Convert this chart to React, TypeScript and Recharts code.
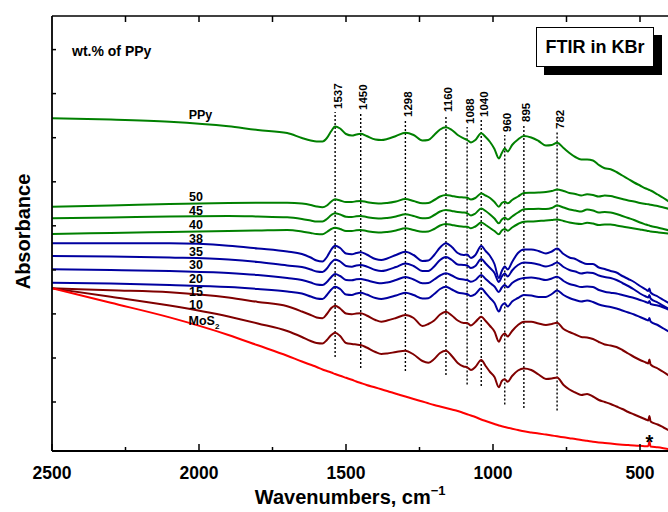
import React from 'react';
import { LineChart, Line, XAxis, YAxis, ReferenceLine, ReferenceDot } from 'recharts';

const FONT = "'Liberation Sans', Arial, Helvetica, sans-serif";

// Wavenumber grid (cm^-1)
const WAVENUMBERS = [
  2500, 2300, 2100, 1900, 1800, 1700, 1650, 1620, 1600, 1580,
  1565, 1550, 1537, 1520, 1500, 1480, 1465, 1450, 1430, 1400,
  1380, 1360, 1330, 1298, 1270, 1240, 1220, 1200, 1180, 1160,
  1140, 1120, 1100, 1088, 1075, 1060, 1040, 1025, 1010, 995,
  980, 970, 960, 950, 935, 915, 895, 870, 845, 820,
  800, 782, 760, 740, 720, 700, 680, 660, 640, 620,
  600, 580, 560, 540, 520, 500, 480, 472, 468, 464,
  440, 420, 400,
];

// Absorbance (arbitrary units, stacked/offset spectra)
const PPY = [
  332.7, 331.5, 329.3, 324.7, 321, 318, 313, 310.5, 309.5, 309.5,
  313, 320, 324.5, 322.5, 317, 315.5, 316.5, 317.3, 315, 311.5,
  311, 312, 315, 318.3, 316, 310.5, 311, 316, 321.5, 323.7,
  321, 316, 312.7, 311, 308.5, 311, 317.7, 314, 309, 302,
  292.5, 298, 302.5, 299.5, 306, 311.5, 315, 313.5, 310, 305.5,
  306, 308.3, 303, 298, 294, 291.5, 291.5, 290.5, 286, 282.7,
  281.7, 279, 275.5, 272, 268.5, 265.5, 262.5, 261.5, 261, 260.5,
  256.5, 253, 249,
];
const PPY50 = [
  244.3, 245.5, 247, 248, 248.2, 248.3, 247.5, 246, 244.5, 243.7,
  245.5, 249.5, 251.8, 250.5, 249, 249, 249.7, 250, 249, 247.7,
  247.5, 248, 249.5, 252, 250, 247.7, 248, 251, 254.5, 256,
  255, 254, 253.5, 253.2, 251.5, 253, 257.5, 255.5, 253, 249,
  244.3, 248, 249.3, 247.7, 251, 254.5, 258, 258.3, 258.5, 259,
  260, 261.5, 260, 258, 257, 255.5, 256.7, 256, 254.5, 255.5,
  255, 253.5, 252, 250.5, 249.5, 248, 247, 246.7, 246.5, 246.2,
  245, 243.5, 242,
];
const PPY45 = [
  232.7, 233.5, 234.5, 235, 234.5, 233.7, 232, 230.5, 229.5, 229.5,
  232, 236, 237.7, 236.5, 234.3, 234, 234.7, 235, 234, 232.7,
  232.5, 233, 234.5, 236.7, 235, 232.7, 233, 236, 239.5, 241,
  240, 239, 238.5, 237.7, 235.5, 237.5, 242.5, 240, 236.5, 232.5,
  227.7, 231.5, 233.3, 231.5, 234.5, 238.5, 241.8, 242, 242.2, 242,
  243, 245.5, 243.5, 241.5, 240.5, 239.5, 241.5, 240.5, 238.5, 239,
  238.5, 237, 235, 233, 231, 228.5, 226.5, 225.7, 225.5, 225,
  223.5, 222, 220.5,
];
const PPY40 = [
  217, 218, 219, 220, 220.5, 221, 219.5, 218, 217, 216.7,
  219, 222, 223.3, 222, 220, 220, 220.7, 221, 220, 218.7,
  218.5, 219, 220.5, 222.7, 221, 219.3, 219.5, 222, 225.5, 227,
  226, 225, 224.3, 224.3, 222.7, 224.5, 228.5, 226, 223, 220,
  216.7, 220.5, 222, 220.3, 223.5, 227, 229.3, 229.5, 230, 230.5,
  231, 231.5, 230, 228.5, 227.5, 227, 228.3, 227.5, 226, 226.5,
  226.5, 225.5, 224.5, 223.5, 222.5, 221.5, 220.5, 220, 219.8, 219.5,
  218.7, 218, 217.2,
];
const PPY38 = [
  207.7, 207.7, 207.7, 205.3, 202.5, 199.5, 197, 193.5, 190.5, 189.5,
  194, 201.5, 205.3, 203, 197.5, 196.7, 198, 198.7, 196.5, 192,
  191, 192.5, 196, 199.3, 196, 190, 190.5, 196, 203.5, 207.7,
  204, 198, 196, 196.5, 193, 196, 205, 200, 195, 187,
  173, 180, 184.5, 181.5, 189, 198, 201.5, 201.5, 200, 197.5,
  199.5, 202.5, 197, 193.5, 192, 189, 187, 187, 183.5, 182,
  180, 178.5, 175, 172, 169, 165, 161.5, 160, 162.5, 158.5,
  154.5, 151, 147.5,
];
const PPY35 = [
  195, 194.5, 193.5, 191.5, 189, 185.5, 184, 181.5, 179.5, 179,
  182.5, 188.5, 191.5, 189.5, 185, 184.3, 185.5, 186, 184.5, 181,
  180, 181, 184, 187.5, 185, 180, 180, 184.5, 191, 194,
  191, 186.5, 186, 185.5, 183, 185, 192, 187.5, 183, 178,
  169, 174.5, 177.5, 174.5, 180.5, 186, 188.5, 188, 186.5, 184.5,
  186, 188.5, 184, 181, 179.5, 177.5, 178.5, 178, 175.5, 174,
  173, 171, 168, 165, 161.5, 157.5, 154.5, 153.5, 156, 152.5,
  148.5, 145, 142,
];
const PPY30 = [
  181.7, 181, 180, 178, 176, 173, 171, 168.5, 166.5, 166,
  169, 174, 177, 175, 171, 170.7, 171.7, 172, 170.7, 168.5,
  167.7, 168.5, 171, 174, 171.5, 167.7, 168, 171.5, 175.5, 177.7,
  175.5, 172.5, 171.5, 171, 169.3, 171, 176, 172, 168, 164.5,
  159, 163.5, 166, 163.7, 168, 171.5, 173, 173.5, 172.5, 171,
  172.5, 174.3, 170, 167, 165.5, 164, 164.5, 164, 161, 159.3,
  158.3, 157.5, 156, 154.5, 153, 151, 149, 148, 150, 147,
  145.5, 143.5, 141,
];
const PPY20 = [
  168.3, 167.5, 166, 164, 162, 159.5, 157.5, 154.5, 152.5, 152,
  156, 161.5, 164.3, 162, 156.5, 156, 157.5, 158.3, 156.5, 153,
  152, 153, 155.5, 158.3, 156, 152.5, 152.7, 157, 162, 164.3,
  161.5, 158.5, 157.5, 157, 155, 157, 162.7, 158, 153, 148,
  139.5, 145.5, 147.7, 144.5, 149.5, 153, 156, 155.5, 154, 154,
  157, 160.5, 156, 153, 151, 149.5, 150.5, 149, 146.5, 145,
  144, 142.5, 140.5, 138.5, 136.5, 134, 131.5, 130.5, 133, 129.5,
  126, 122.5, 119,
];
const PPY15 = [
  162.7, 160.7, 158.7, 153.5, 149.1, 144.7, 139.5, 136, 133.5, 132.7,
  137, 143, 145.3, 142.5, 137.5, 136.7, 137.5, 137.7, 135.5, 131,
  129.3, 130.5, 133, 136, 133, 125, 127, 130.5, 136.5, 139.3,
  135.5, 130.5, 128, 128, 125.5, 129, 134.3, 130, 125, 119.5,
  109.3, 115, 117.5, 114.5, 120, 126, 129.3, 129.3, 127.5, 126,
  127, 128.3, 122, 119, 116.5, 114, 113.5, 112, 109, 106.5,
  105.5, 104, 101, 97.5, 94, 91, 88.5, 87.5, 91.5, 86.5,
  82.5, 79, 75,
];
const PPY10 = [
  162.7, 154.3, 145.5, 134.5, 127.5, 120, 114, 110, 108, 107.5,
  111, 116, 118.3, 115, 108, 107, 106.5, 106, 103.5, 99,
  97, 97.5, 99, 100.3, 96.5, 90, 88.3, 92, 98, 100.3,
  95, 88, 84.5, 83.7, 81, 84, 91, 85, 79, 74,
  63.7, 70, 71.7, 69.3, 75, 80.5, 82.5, 81, 76.5, 72,
  72.5, 73.5, 66, 61.5, 58.5, 56, 57, 54.5, 51, 49,
  47, 44.5, 42, 39, 36.5, 34, 31.5, 30.5, 35, 29.5,
  26.5, 23.5, 20.5,
];
const MOS2 = [
  162.7, 148.2, 133.6, 116, 105.7, 95.3, 89.5, 86.2, 84, 81.5,
  80, 78.5, 77, 75.2, 73.2, 71.2, 69.5, 68, 66, 63.5,
  61.7, 60, 57.3, 54.5, 52, 49.5, 47.7, 46, 44.5, 43,
  41.5, 40, 38, 36.8, 35.5, 34, 31.5, 30, 28.5, 27,
  25.5, 24.7, 24, 23.3, 22.3, 21, 19.7, 18.5, 17.5, 16.4,
  15.5, 14.7, 13.7, 12.8, 12, 11, 10.2, 9.3, 8.6, 8,
  7.4, 6.8, 6.3, 5.9, 5.5, 5.2, 4.8, 4.7, 9.5, 4.5,
  3.7, 2.8, 1.8,
];

// Peak assignments (dotted markers)
const PEAKS = [1537, 1450, 1298, 1160, 1088, 1040, 960, 895, 782];
const PEAK_TOP = [339, 338, 331, 336, 324, 331, 316, 326, 319];
const PEAK_BOTTOM = [94, 83, 80, 76, 66.5, 65, 46.5, 43, 40.5];

// Curve labels
const CURVE_LABELS = ['PPy', '50', '45', '40', '38', '35', '30', '20', '15', '10', 'MoS2'];
const LABEL_WN = [1995, 2010, 2010, 2010, 2010, 2010, 2010, 2010, 2010, 2010, 1983];
const LABEL_Y = [336, 254.3, 240.3, 226.1, 212.9, 199.3, 186, 172.8, 159.5, 146.5, 130.3];

const ASTERISK_WN = 468;
const ASTERISK_Y = 14;

// Axis ticks
const X_TICKS = [2500, 2250, 2000, 1750, 1500, 1250, 1000, 750, 500];
const TOP_TICKS = [2250, 2000, 1750, 1500, 1250, 1000, 750, 500];
const Y_TICKS = [49, 93, 137.1, 181.1, 225.2, 269.2, 313.3, 357.4, 401.4];

const GREEN = '#008000';
const BLUE = '#0000A0';
const DARK_RED = '#800000';
const RED = '#FF0000';

const SERIES = [
  { key: 'ppy', values: PPY, color: GREEN },
  { key: 'p50', values: PPY50, color: GREEN },
  { key: 'p45', values: PPY45, color: GREEN },
  { key: 'p40', values: PPY40, color: GREEN },
  { key: 'p38', values: PPY38, color: BLUE },
  { key: 'p35', values: PPY35, color: BLUE },
  { key: 'p30', values: PPY30, color: BLUE },
  { key: 'p20', values: PPY20, color: BLUE },
  { key: 'p15', values: PPY15, color: DARK_RED },
  { key: 'p10', values: PPY10, color: DARK_RED },
  { key: 'mos2', values: MOS2, color: RED },
];

const rows = WAVENUMBERS.map((wn, i) => {
  const r: Record<string, number> = { wn };
  SERIES.forEach((s) => {
    r[s.key] = s.values[i];
  });
  return r;
});

const BottomTick = (props: any) => {
  const { x, y, payload } = props;
  const major = payload.value % 500 === 0;
  return (
    <g>
      <line x1={x} x2={x} y1={y} y2={y - (major ? 7 : 4)} stroke="#000" strokeWidth={1.5} />
      {major && (
        <text x={x} y={y + 28} textAnchor="middle" fontFamily={FONT} fontWeight="bold" fontSize={17.5} fill="#000">
          {payload.value}
        </text>
      )}
    </g>
  );
};

const TopTick = (props: any) => {
  const { x, y } = props;
  return <line x1={x} x2={x} y1={y} y2={y + 6} stroke="#000" strokeWidth={1.5} />;
};

const LeftTick = (props: any) => {
  const { x, y } = props;
  return <line x1={x} x2={x + 4} y1={y} y2={y} stroke="#000" strokeWidth={1.5} />;
};

const XTitle = (props: any) => {
  const vb = props.viewBox;
  const cx = vb.x + vb.width / 2 - 10.5;
  return (
    <text x={cx} y={vb.y + 53} textAnchor="middle" fontFamily={FONT} fontWeight="bold" fontSize={20} fill="#000">
      Wavenumbers, cm
      <tspan dy={-9} fontSize={13}>−1</tspan>
    </text>
  );
};

const YTitle = (props: any) => {
  const vb = props.viewBox;
  const x = vb.x + 30;
  const y = vb.y + vb.height / 2 - 2;
  return (
    <text x={x} y={y} transform={`rotate(-90 ${x} ${y})`} textAnchor="middle" fontFamily={FONT} fontWeight="bold" fontSize={20} fill="#000">
      Absorbance
    </text>
  );
};

const PeakLabel = (props: any) => {
  const { viewBox, text } = props;
  const x = viewBox.x + 6.5;
  const y = viewBox.y - 3;
  return (
    <text x={x} y={y} transform={`rotate(-90 ${x} ${y})`} textAnchor="start" fontFamily={FONT} fontWeight="bold" fontSize={11.5} fill="#000">
      {text}
    </text>
  );
};

const CurveLabel = (props: any) => {
  const { viewBox, text } = props;
  const x = viewBox.x + (viewBox.width || 0) / 2;
  const y = viewBox.y + (viewBox.height || 0) / 2 + 4.4;
  if (text === 'MoS2') {
    return (
      <text x={x} y={y} textAnchor="middle" fontFamily={FONT} fontWeight="bold" fontSize={12.5} fill="#000">
        MoS
        <tspan dy={4} fontSize={8}>2</tspan>
      </text>
    );
  }
  return (
    <text x={x} y={y} textAnchor="middle" fontFamily={FONT} fontWeight="bold" fontSize={12.5} fill="#000">
      {text}
    </text>
  );
};

const AsteriskLabel = (props: any) => {
  const { viewBox } = props;
  const x = viewBox.x + (viewBox.width || 0) / 2;
  const y = viewBox.y + (viewBox.height || 0) / 2 + 11.5;
  return (
    <text x={x} y={y} textAnchor="middle" fontFamily={FONT} fontWeight="bold" fontSize={20} fill="#000">
      *
    </text>
  );
};

export default function App() {
  return (
    <div style={{ position: 'absolute', left: 0, top: 0, width: 668, height: 512, overflow: 'hidden', background: '#fff' }}>
      <LineChart width={672} height={512} data={rows} margin={{ top: 0, right: 2.6, bottom: 0, left: 0 }}>
        <XAxis
          xAxisId="top"
          orientation="top"
          type="number"
          dataKey="wn"
          domain={[400, 2500]}
          reversed
          allowDataOverflow
          ticks={TOP_TICKS}
          interval={0}
          tick={TopTick}
          tickLine={false}
          tickSize={0}
          tickMargin={0}
          height={16}
          axisLine={{ stroke: '#000', strokeWidth: 1.6 }}
        />
        <XAxis
          type="number"
          dataKey="wn"
          domain={[400, 2500]}
          reversed
          allowDataOverflow
          ticks={X_TICKS}
          interval={0}
          tick={BottomTick}
          tickLine={false}
          tickSize={0}
          tickMargin={0}
          height={61}
          axisLine={{ stroke: '#000', strokeWidth: 1.8 }}
          label={XTitle}
        />
        <YAxis
          type="number"
          domain={[0, 435]}
          allowDataOverflow
          ticks={Y_TICKS}
          interval={0}
          tick={LeftTick}
          tickLine={false}
          tickSize={0}
          tickMargin={0}
          width={52}
          axisLine={{ stroke: '#000', strokeWidth: 1.8 }}
          label={YTitle}
        />
        {PEAKS.map((p, i) => (
          <ReferenceLine
            key={`peak-${p}`}
            segment={[
              { x: p, y: PEAK_BOTTOM[i] },
              { x: p, y: PEAK_TOP[i] },
            ]}
            stroke="#000"
            strokeWidth={1.4}
            strokeDasharray="2 2"
            label={(lp: any) => <PeakLabel {...lp} text={String(p)} />}
          />
        ))}
        {SERIES.map((s) => (
          <Line
            key={s.key}
            dataKey={s.key}
            type="monotone"
            stroke={s.color}
            strokeWidth={2}
            dot={false}
            activeDot={false}
            isAnimationActive={false}
          />
        ))}
        {CURVE_LABELS.map((t, i) => (
          <ReferenceDot
            key={`lbl-${t}`}
            x={LABEL_WN[i]}
            y={LABEL_Y[i]}
            r={0}
            fill="none"
            stroke="none"
            label={(lp: any) => <CurveLabel {...lp} text={t} />}
          />
        ))}
        <ReferenceDot
          x={ASTERISK_WN}
          y={ASTERISK_Y}
          r={0}
          fill="none"
          stroke="none"
          label={(lp: any) => <AsteriskLabel {...lp} />}
        />
      </LineChart>
      <div
        style={{
          position: 'absolute',
          left: 72,
          top: 44,
          fontFamily: FONT,
          fontWeight: 'bold',
          fontSize: 14,
          lineHeight: '14px',
          color: '#000',
          whiteSpace: 'nowrap',
        }}
      >
        wt.% of PPy
      </div>
      <div
        style={{
          position: 'absolute',
          left: 536,
          top: 27,
          width: 118,
          height: 40,
          boxSizing: 'border-box',
          border: '1.3px solid #000',
          background: '#fff',
          boxShadow: '8px 8px 0 #000',
          display: 'flex',
          alignItems: 'center',
          justifyContent: 'center',
          fontFamily: FONT,
          fontWeight: 'bold',
          fontSize: 18,
          color: '#000',
          whiteSpace: 'nowrap',
        }}
      >
        FTIR in KBr
      </div>
    </div>
  );
}
